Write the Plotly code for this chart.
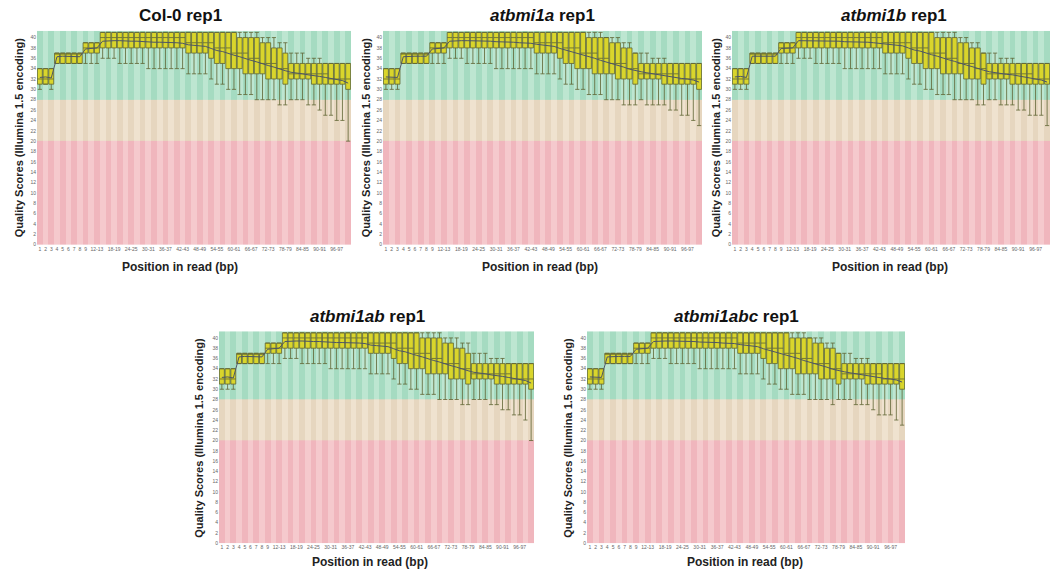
import plotly.graph_objects as go

W, H = 1053, 575

categories = ["1", "2", "3", "4", "5", "6", "7", "8", "9", "10-11", "12-13", "14-15", "16-17",
              "18-19", "20-21", "22-23", "24-25", "26-27", "28-29", "30-31", "32-33", "34-35",
              "36-37", "38-39", "40-41", "42-43", "44-45", "46-47", "48-49", "50-51", "52-53",
              "54-55", "56-57", "58-59", "60-61", "62-63", "64-65", "66-67", "68-69", "70-71",
              "72-73", "74-75", "76-77", "78-79", "80-81", "82-83", "84-85", "86-87", "88-89",
              "90-91", "92-93", "94-95", "96-97", "98-99", "100-101"]

shown_ticks = ["1", "2", "3", "4", "5", "6", "7", "8", "9", "12-13", "18-19", "24-25", "30-31",
               "36-37", "42-43", "48-49", "54-55", "60-61", "66-67", "72-73", "78-79", "84-85",
               "90-91", "96-97"]

y_ticks = [0, 2, 4, 6, 8, 10, 12, 14, 16, 18, 20, 22, 24, 26, 28, 30, 32, 34, 36, 38, 40]
zone_edges = [0, 20, 28, 41.3]

titles = ["<b>Col-0 rep1</b>", "<b><i>atbmi1a</i> rep1</b>", "<b><i>atbmi1b</i> rep1</b>",
          "<b><i>atbmi1ab</i> rep1</b>", "<b><i>atbmi1abc</i> rep1</b>"]

# ---- Col-0 rep1
col0_lw = [30, 31, 30, 35, 35, 35, 35, 35, 35, 35, 35, 36, 36, 36, 35, 35, 35, 35, 35, 34, 34, 34, 34, 34, 34, 34,
           33, 33, 33, 33, 32, 31, 31, 30, 30, 29, 29, 29, 28, 28, 28, 28, 27, 27, 28, 28, 28, 27, 27, 26,
           25, 25, 24, 24, 20]
col0_q1 = [31, 31, 31, 35, 35, 35, 35, 35, 37, 37, 37, 38, 38, 38, 38, 38, 38, 38, 38, 38, 38, 38, 38, 38, 38, 38,
           37, 37, 37, 37, 36, 35, 35, 34, 34, 34, 33, 33, 33, 33, 32, 32, 32, 31, 32, 32, 32, 32, 31, 31,
           31, 31, 31, 31, 30]
col0_med = [32, 32, 32, 37, 37, 37, 37, 37, 38, 38, 38, 40, 40, 40, 40, 40, 40, 40, 40, 40, 40, 40, 40, 40, 40, 40,
            39, 39, 39, 39, 39, 38, 38, 38, 37, 37, 37, 36, 36, 35, 35, 35, 34, 34, 33, 33, 33, 33, 33, 33,
            33, 32, 32, 32, 32]
col0_q3 = [34, 34, 34, 37, 37, 37, 37, 37, 39, 39, 39, 41, 41, 41, 41, 41, 41, 41, 41, 41, 41, 41, 41, 41, 41, 41,
           41, 41, 41, 41, 41, 41, 41, 41, 41, 40, 40, 40, 40, 39, 39, 38, 38, 37, 35, 35, 35, 35, 35, 35,
           35, 35, 35, 35, 35]
col0_uw = [34, 34, 34, 37, 37, 37, 37, 37, 39, 39, 39, 41, 41, 41, 41, 41, 41, 41, 41, 41, 41, 41, 41, 41, 41, 41,
           41, 41, 41, 41, 41, 41, 41, 41, 41, 41, 41, 41, 41, 40, 40, 40, 39, 39, 37, 37, 37, 36, 36, 36,
           35, 35, 35, 35, 35]
col0_mean = [32.3, 32.4, 32.2, 36.3, 36.4, 36.4, 36.4, 36.3, 37.8, 37.9, 38.0, 39.3, 39.4, 39.4, 39.4, 39.3,
             39.3, 39.3, 39.2, 39.2, 39.1, 39.1, 39.1, 39.0, 39.0, 38.9, 38.6, 38.5, 38.4, 38.3, 37.9, 37.5,
             37.3, 36.9, 36.6, 36.3, 35.9, 35.6, 35.3, 34.9, 34.6, 34.3, 33.9, 33.6, 33.3, 33.2, 33.0, 32.8,
             32.7, 32.5, 32.3, 32.1, 31.9, 31.7, 31.2]

# ---- atbmi1a rep1
a_lw = [30, 30, 30, 35, 35, 35, 35, 35, 35, 35, 35, 36, 36, 36, 35, 35, 35, 35, 35, 34, 34, 34, 34, 34, 34, 34,
        33, 33, 33, 33, 32, 31, 31, 30, 30, 29, 29, 29, 28, 28, 28, 27, 27, 27, 28, 27, 27, 27, 27, 26,
        26, 25, 25, 24, 23]
a_q1 = [31, 31, 31, 35, 35, 35, 35, 35, 37, 37, 37, 38, 38, 38, 38, 38, 38, 38, 38, 38, 38, 38, 38, 38, 38, 38,
        37, 37, 37, 37, 36, 35, 35, 34, 34, 34, 33, 33, 33, 33, 32, 32, 32, 31, 32, 32, 32, 32, 31, 31,
        31, 31, 31, 31, 30]
a_med = [32, 32, 32, 37, 37, 37, 37, 37, 38, 38, 38, 40, 40, 40, 40, 40, 40, 40, 40, 40, 40, 40, 40, 40, 40, 40,
         39, 39, 39, 39, 39, 38, 38, 38, 37, 37, 37, 36, 36, 35, 35, 35, 34, 34, 33, 33, 33, 33, 33, 33,
         33, 32, 32, 32, 32]
a_q3 = [34, 34, 34, 37, 37, 37, 37, 37, 39, 39, 39, 41, 41, 41, 41, 41, 41, 41, 41, 41, 41, 41, 41, 41, 41, 41,
        41, 41, 41, 41, 41, 41, 41, 41, 41, 40, 40, 40, 40, 39, 39, 38, 38, 37, 35, 35, 35, 35, 35, 35,
        35, 35, 35, 35, 35]
a_uw = [34, 34, 34, 37, 37, 37, 37, 37, 39, 39, 39, 41, 41, 41, 41, 41, 41, 41, 41, 41, 41, 41, 41, 41, 41, 41,
        41, 41, 41, 41, 41, 41, 41, 41, 41, 41, 41, 41, 40, 40, 40, 39, 39, 37, 37, 37, 36, 36, 36, 35,
        35, 35, 35, 35, 35]
a_mean = [32.4, 32.4, 32.3, 36.3, 36.4, 36.4, 36.4, 36.4, 37.8, 37.9, 38.0, 39.3, 39.4, 39.4, 39.4, 39.4,
          39.3, 39.3, 39.3, 39.2, 39.2, 39.1, 39.1, 39.0, 39.0, 38.9, 38.7, 38.6, 38.4, 38.3, 37.9, 37.6,
          37.3, 37.0, 36.6, 36.3, 36.0, 35.6, 35.3, 34.9, 34.6, 34.3, 33.9, 33.6, 33.4, 33.2, 33.0, 32.9,
          32.7, 32.5, 32.3, 32.1, 32.0, 31.8, 31.4]

# ---- atbmi1b rep1
b_lw = [30, 30, 30, 35, 35, 35, 35, 35, 35, 35, 35, 36, 36, 36, 35, 35, 35, 35, 35, 34, 34, 34, 34, 34, 34, 34,
        33, 33, 33, 33, 32, 31, 31, 30, 30, 29, 29, 29, 28, 28, 28, 28, 27, 27, 28, 28, 27, 27, 27, 26,
        26, 25, 25, 25, 23]
b_q1 = [31, 31, 31, 35, 35, 35, 35, 35, 37, 37, 37, 38, 38, 38, 38, 38, 38, 38, 38, 38, 38, 38, 38, 38, 38, 38,
        37, 37, 37, 37, 36, 35, 35, 34, 34, 34, 33, 33, 33, 33, 32, 32, 32, 31, 32, 32, 32, 32, 31, 31,
        31, 31, 31, 31, 31]
b_med = [32, 32, 32, 37, 37, 37, 37, 37, 38, 38, 38, 40, 40, 40, 40, 40, 40, 40, 40, 40, 40, 40, 40, 40, 40, 40,
         39, 39, 39, 39, 39, 38, 38, 38, 37, 37, 37, 36, 36, 35, 35, 35, 34, 34, 33, 33, 33, 33, 33, 33,
         33, 33, 32, 32, 32]
b_q3 = [34, 34, 34, 37, 37, 37, 37, 37, 39, 39, 39, 41, 41, 41, 41, 41, 41, 41, 41, 41, 41, 41, 41, 41, 41, 41,
        41, 41, 41, 41, 41, 41, 41, 41, 41, 40, 40, 40, 40, 39, 39, 38, 38, 37, 35, 35, 35, 35, 35, 35,
        35, 35, 35, 35, 35]
b_uw = [34, 34, 34, 37, 37, 37, 37, 37, 39, 39, 39, 41, 41, 41, 41, 41, 41, 41, 41, 41, 41, 41, 41, 41, 41, 41,
        41, 41, 41, 41, 41, 41, 41, 41, 41, 41, 41, 41, 41, 40, 40, 39, 39, 37, 37, 37, 36, 36, 36, 35,
        35, 35, 35, 35, 35]
b_mean = [32.4, 32.5, 32.3, 36.4, 36.4, 36.4, 36.4, 36.4, 37.9, 37.9, 38.0, 39.4, 39.4, 39.4, 39.4, 39.4,
          39.3, 39.3, 39.3, 39.2, 39.2, 39.2, 39.1, 39.1, 39.0, 38.9, 38.7, 38.6, 38.5, 38.4, 38.0, 37.6,
          37.4, 37.0, 36.7, 36.4, 36.0, 35.7, 35.4, 35.0, 34.7, 34.4, 34.0, 33.7, 33.4, 33.2, 33.1, 32.9,
          32.8, 32.6, 32.4, 32.2, 32.0, 31.8, 31.4]

# ---- atbmi1ab rep1
ab_lw = [30, 30, 30, 35, 35, 35, 35, 35, 35, 35, 35, 36, 36, 36, 35, 35, 35, 35, 35, 34, 34, 34, 34, 34, 34, 34,
         33, 33, 33, 33, 32, 31, 31, 30, 30, 29, 29, 29, 28, 28, 28, 28, 27, 27, 28, 28, 28, 27, 27, 26,
         26, 25, 25, 24, 20]
ab_q1 = [31, 31, 31, 35, 35, 35, 35, 35, 37, 37, 37, 38, 38, 38, 38, 38, 38, 38, 38, 38, 38, 38, 38, 38, 38, 38,
         37, 37, 37, 37, 36, 35, 35, 34, 34, 34, 33, 33, 33, 33, 32, 32, 32, 31, 32, 32, 32, 32, 31, 31,
         31, 31, 31, 31, 30]
ab_med = [32, 32, 32, 37, 37, 37, 37, 37, 38, 38, 38, 40, 40, 40, 40, 40, 40, 40, 40, 40, 40, 40, 40, 40, 40, 40,
          39, 39, 39, 39, 39, 38, 38, 38, 37, 37, 37, 36, 36, 35, 35, 35, 34, 34, 33, 33, 33, 33, 33, 33,
          33, 32, 32, 32, 32]
ab_q3 = [34, 34, 34, 37, 37, 37, 37, 37, 39, 39, 39, 41, 41, 41, 41, 41, 41, 41, 41, 41, 41, 41, 41, 41, 41, 41,
         41, 41, 41, 41, 41, 41, 41, 41, 41, 40, 40, 40, 40, 39, 39, 38, 38, 37, 35, 35, 35, 35, 35, 35,
         35, 35, 35, 35, 35]
ab_uw = [34, 34, 34, 37, 37, 37, 37, 37, 39, 39, 39, 41, 41, 41, 41, 41, 41, 41, 41, 41, 41, 41, 41, 41, 41, 41,
         41, 41, 41, 41, 41, 41, 41, 41, 41, 41, 41, 41, 41, 40, 40, 40, 39, 39, 37, 37, 37, 36, 36, 36,
         35, 35, 35, 35, 35]
ab_mean = [32.3, 32.4, 32.2, 36.3, 36.4, 36.4, 36.4, 36.3, 37.8, 37.9, 38.0, 39.3, 39.4, 39.4, 39.4, 39.3,
           39.3, 39.3, 39.2, 39.2, 39.1, 39.1, 39.1, 39.0, 39.0, 38.9, 38.6, 38.5, 38.4, 38.3, 37.9, 37.5,
           37.3, 36.9, 36.6, 36.3, 35.9, 35.6, 35.3, 34.9, 34.6, 34.3, 33.9, 33.6, 33.3, 33.2, 33.0, 32.8,
           32.7, 32.5, 32.3, 32.1, 31.9, 31.7, 31.2]

# ---- atbmi1abc rep1
abc_lw = [30, 30, 30, 35, 35, 35, 35, 35, 35, 35, 35, 36, 36, 36, 35, 35, 35, 35, 35, 34, 34, 34, 34, 34, 34, 34,
          33, 33, 33, 33, 32, 31, 31, 30, 30, 29, 29, 29, 28, 28, 28, 28, 27, 28, 28, 28, 27, 27, 27, 26,
          25, 25, 25, 24, 23]
abc_q1 = [31, 31, 31, 35, 35, 35, 35, 35, 37, 37, 37, 38, 38, 38, 38, 38, 38, 38, 38, 38, 38, 38, 38, 38, 38, 38,
          37, 37, 37, 37, 36, 35, 35, 34, 34, 34, 33, 33, 33, 33, 32, 32, 32, 31, 32, 32, 32, 32, 31, 31,
          31, 31, 31, 31, 30]
abc_med = [32, 32, 32, 37, 37, 37, 37, 37, 38, 38, 38, 40, 40, 40, 40, 40, 40, 40, 40, 40, 40, 40, 40, 40, 40, 40,
           39, 39, 39, 39, 39, 38, 38, 38, 37, 37, 37, 36, 36, 35, 35, 35, 34, 34, 33, 33, 33, 33, 33, 33,
           33, 32, 32, 32, 32]
abc_q3 = [34, 34, 34, 37, 37, 37, 37, 37, 39, 39, 39, 41, 41, 41, 41, 41, 41, 41, 41, 41, 41, 41, 41, 41, 41, 41,
          41, 41, 41, 41, 41, 41, 41, 41, 41, 40, 40, 40, 40, 39, 39, 38, 38, 37, 35, 35, 35, 35, 35, 35,
          35, 35, 35, 35, 35]
abc_uw = [34, 34, 34, 37, 37, 37, 37, 37, 39, 39, 39, 41, 41, 41, 41, 41, 41, 41, 41, 41, 41, 41, 41, 41, 41, 41,
          41, 41, 41, 41, 41, 41, 41, 41, 41, 41, 41, 41, 40, 40, 40, 39, 39, 37, 37, 37, 36, 36, 36, 35,
          35, 35, 35, 35, 35]
abc_mean = [32.4, 32.4, 32.3, 36.3, 36.4, 36.4, 36.4, 36.4, 37.8, 37.9, 38.0, 39.3, 39.4, 39.4, 39.4, 39.4,
            39.3, 39.3, 39.3, 39.2, 39.2, 39.1, 39.1, 39.0, 39.0, 38.9, 38.7, 38.6, 38.4, 38.3, 37.9, 37.6,
            37.3, 37.0, 36.6, 36.3, 36.0, 35.6, 35.3, 34.9, 34.6, 34.3, 33.9, 33.6, 33.4, 33.2, 33.0, 32.9,
            32.7, 32.5, 32.3, 32.1, 32.0, 31.8, 31.4]

panels = [
    (col0_lw, col0_q1, col0_med, col0_q3, col0_uw, col0_mean),
    (a_lw, a_q1, a_med, a_q3, a_uw, a_mean),
    (b_lw, b_q1, b_med, b_q3, b_uw, b_mean),
    (ab_lw, ab_q1, ab_med, ab_q3, ab_uw, ab_mean),
    (abc_lw, abc_q1, abc_med, abc_q3, abc_uw, abc_mean),
]

# ---- layout geometry (pixels)
plot_boxes = [(37, 351, 31, 246), (383, 702, 31, 246), (732, 1050, 31, 246),
              (219, 534, 333, 546), (587, 905, 333, 546)]
title_pos = [(180, 16), (542, 16), (894, 16), (367, 318), (736, 318)]
ytitle_pos = [(19, 138), (366, 138), (716, 138), (199, 440), (568, 440)]
xtitle_pos = [(180, 268), (540, 268), (890, 268), (370, 565), (745, 565)]

zone_colors = ["#f0b6bd", "#f5c9cd", "#e6d6bf", "#efe2cf", "#a5dbc1", "#bde6d1"]
colorscale = []
for k, c in enumerate(zone_colors):
    colorscale += [[k / 6, c], [(k + 1) / 6, c]]

FONT = "Liberation Sans, Arial, sans-serif"
pos = list(range(len(categories)))
tickvals = [categories.index(t) for t in shown_ticks]

fig = go.Figure()
annotations = []
layout_axes = {}

for p, (lw, q1, med, q3, uw, mean) in enumerate(panels):
    n = p + 1
    xa = "x" if n == 1 else f"x{n}"
    ya = "y" if n == 1 else f"y{n}"
    # background zones (striped per position)
    z = [[zone * 2 + (i % 2) for i in range(len(categories))] for zone in range(3)]
    fig.add_trace(go.Heatmap(
        x=[i - 0.5 for i in range(len(categories) + 1)], y=zone_edges, z=z,
        colorscale=colorscale, zmin=-0.5, zmax=5.5, showscale=False, hoverinfo="skip",
        xaxis=xa, yaxis=ya))
    fig.add_trace(go.Box(
        x=pos, q1=q1, median=med, q3=q3, lowerfence=lw, upperfence=uw,
        width=0.86, whiskerwidth=0.85, fillcolor="#d9d52c",
        line=dict(color="#5f6433", width=0.8), boxpoints=False,
        showlegend=False, xaxis=xa, yaxis=ya))
    fig.add_trace(go.Scatter(
        x=pos, y=mean, mode="lines", line=dict(color="#4d5566", width=1),
        showlegend=False, hoverinfo="skip", xaxis=xa, yaxis=ya))

    x0, x1, y0, y1 = plot_boxes[p]
    layout_axes["xaxis" if n == 1 else f"xaxis{n}"] = dict(
        domain=[x0 / W, x1 / W], anchor=ya, range=[-0.5, len(categories) - 0.5],
        tickvals=tickvals, ticktext=shown_ticks, tickangle=0,
        tickfont=dict(size=5, color="#666666", family=FONT),
        showgrid=False, zeroline=False, showline=False, ticks="", ticklen=0)
    layout_axes["yaxis" if n == 1 else f"yaxis{n}"] = dict(
        domain=[1 - y1 / H, 1 - y0 / H], anchor=xa, range=[0, zone_edges[-1]],
        tickvals=y_ticks, tickfont=dict(size=5, color="#666666", family=FONT),
        showgrid=False, zeroline=False, showline=False, ticks="")

    tx, ty = title_pos[p]
    annotations.append(dict(text=titles[p], x=tx / W, y=1 - ty / H, xref="paper", yref="paper",
                            showarrow=False, xanchor="center", yanchor="middle",
                            font=dict(size=17, color="#111111", family=FONT)))
    yx, yy = ytitle_pos[p]
    annotations.append(dict(text="<b>Quality Scores (Illumina 1.5 encoding)</b>", x=yx / W, y=1 - yy / H,
                            xref="paper", yref="paper", showarrow=False, textangle=-90,
                            xanchor="center", yanchor="middle",
                            font=dict(size=11, color="#222222", family=FONT)))
    xx, xy = xtitle_pos[p]
    annotations.append(dict(text="<b>Position in read (bp)</b>", x=xx / W, y=1 - xy / H,
                            xref="paper", yref="paper", showarrow=False,
                            xanchor="center", yanchor="middle",
                            font=dict(size=12, color="#222222", family=FONT)))

fig.update_layout(
    width=W, height=H, margin=dict(l=0, r=0, t=0, b=0),
    paper_bgcolor="white", plot_bgcolor="white", showlegend=False,
    annotations=annotations, **layout_axes)

fig.write_html("out.html", config={"displayModeBar": False},
               post_script="document.body.style.margin='0px';document.body.style.overflow='hidden';")
